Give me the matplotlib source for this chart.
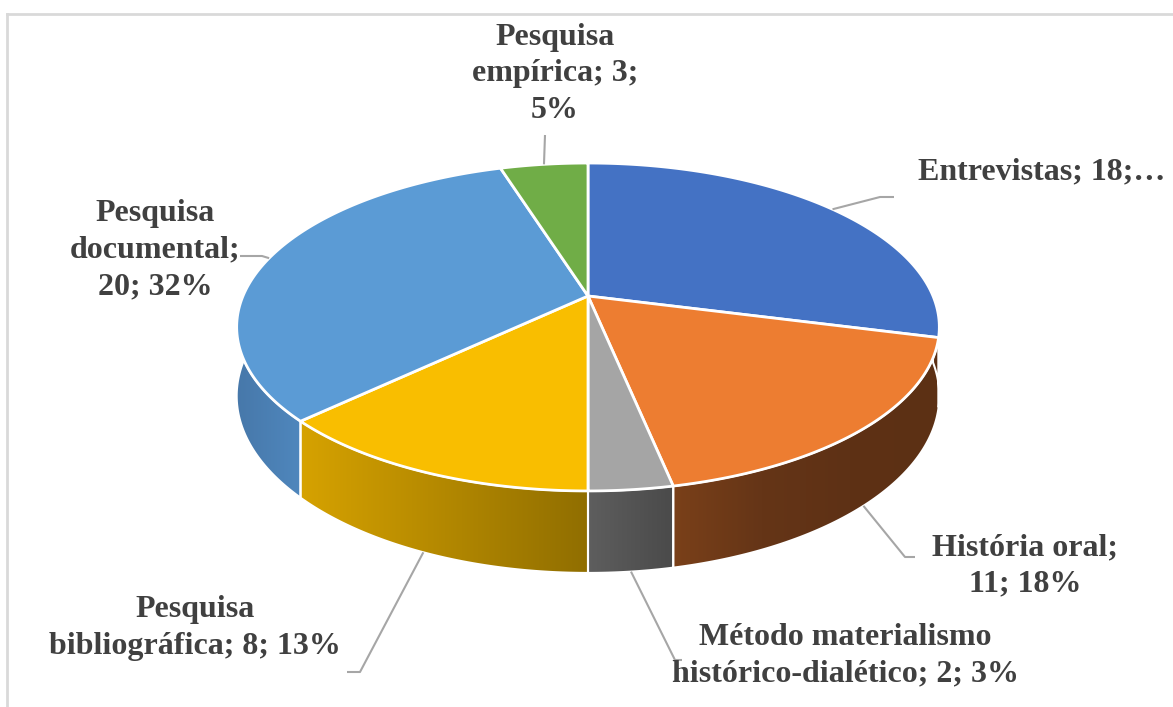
import numpy as np
import matplotlib.pyplot as plt
from matplotlib.patches import Polygon
from matplotlib.colors import LinearSegmentedColormap

# data
names = ["Entrevistas", "História oral", "Método materialismo histórico-dialético",
         "Pesquisa bibliográfica", "Pesquisa documental", "Pesquisa empírica"]
values = [18, 11, 2, 8, 20, 3]
label_fmt = ["Entrevistas; {v};…",
             "História oral;\n{v}; {p}%",
             "Método materialismo\nhistórico-dialético; {v}; {p}%",
             "Pesquisa\nbibliográfica; {v}; {p}%",
             "Pesquisa\ndocumental;\n{v}; {p}%",
             "Pesquisa\nempírica; {v};\n{p}%"]

top_colors = ["#4472C4", "#ED7D31", "#A5A5A5", "#F9BE00", "#5B9BD5", "#70AD47"]
side_colors = [["#2F5597", "#2F5597"], ["#7A4019", "#653517", "#5E3115", "#5C3014"],
               ["#5E5E5E", "#4A4A4A"], ["#D6A200", "#906E00"],
               ["#4778AA", "#4F87BD"], ["#4E7A32", "#4E7A32"]]

# label placement (pixels) and leader elbows
label_pos = [(1042, 172), (1025, 566), (845, 656), (195, 628), (155, 250), (555, 74)]
leaders = [[(880, 197), (894, 197)], [(905, 557), (915, 557)], [(675, 660), (682, 660)],
           [(360, 672), (347, 672)], [(262, 256), (240, 256)], [(545, 135)]]

# projection of the tilted disc (perspective)
X0, Y0, R, A, B, H = 588, 296, 345, 158.1, 0.189, 66.5


def proj(theta, depth=0.0):
    t = np.radians(theta)
    u, v = np.cos(t), np.sin(t)
    s = 1.0 / (1.0 + B * v)
    return X0 + R * u * s, Y0 - A * v * s + depth * H * s


fig = plt.figure(figsize=(11.73, 7.07), dpi=100)
ax = fig.add_axes([0, 0, 1, 1])

total = sum(values)
cum = np.concatenate([[0], np.cumsum(values)])
starts = 90 - 360 * cum[:-1] / total
ends = 90 - 360 * cum[1:] / total

# sides (front half only)
for i in range(len(values)):
    a0, a1 = min(starts[i], 0), max(ends[i], -180)
    if a0 <= a1:
        continue
    th = np.linspace(a0, a1, 80)
    xt, yt = proj(th)
    xb, yb = proj(th, 1.0)
    pts = np.column_stack([np.concatenate([xt, xb[::-1]]), np.concatenate([yt, yb[::-1]])])
    poly = Polygon(pts, closed=True, facecolor="none", edgecolor="white", lw=1.5, zorder=2)
    ax.add_patch(poly)
    cmap = LinearSegmentedColormap.from_list("s%d" % i, side_colors[i])
    grad = np.linspace(0, 1, 256).reshape(1, -1)
    im = ax.imshow(grad, cmap=cmap, aspect="auto", zorder=1,
                   extent=[pts[:, 0].min(), pts[:, 0].max(), pts[:, 1].max(), pts[:, 1].min()])
    im.set_clip_path(poly)

# top faces
for i in range(len(values)):
    th = np.linspace(starts[i], ends[i], 120)
    xt, yt = proj(th)
    pts = np.column_stack([np.concatenate([[X0], xt]), np.concatenate([[Y0], yt])])
    ax.add_patch(Polygon(pts, closed=True, facecolor=top_colors[i], edgecolor="white",
                         lw=2, joinstyle="round", zorder=3))

# labels and leader lines
for i in range(len(values)):
    mid = (starts[i] + ends[i]) / 2
    front = np.sin(np.radians(mid)) < 0
    ax_, ay_ = proj(mid, 1.0 if front else 0.0)
    xs = [ax_] + [p[0] for p in leaders[i]]
    ys = [ay_] + [p[1] for p in leaders[i]]
    ax.plot(xs, ys, color="#A6A6A6", lw=1.5, zorder=4, solid_capstyle="butt")
    pct = round(values[i] / total * 100)
    ax.text(label_pos[i][0], label_pos[i][1], label_fmt[i].format(v=values[i], p=pct),
            ha="center", va="center", fontsize=23, fontweight="bold",
            family="Liberation Serif", color="#404040", linespacing=1.34, zorder=5)

# chart area border
ax.plot([7, 7], [707, 14], color="#D9D9D9", lw=2)
ax.plot([7, 1173], [14, 14], color="#D9D9D9", lw=2)

ax.set_xlim(0, 1173)
ax.set_ylim(707, 0)
ax.axis("off")
fig.savefig("out.png", dpi=100, facecolor="white")
